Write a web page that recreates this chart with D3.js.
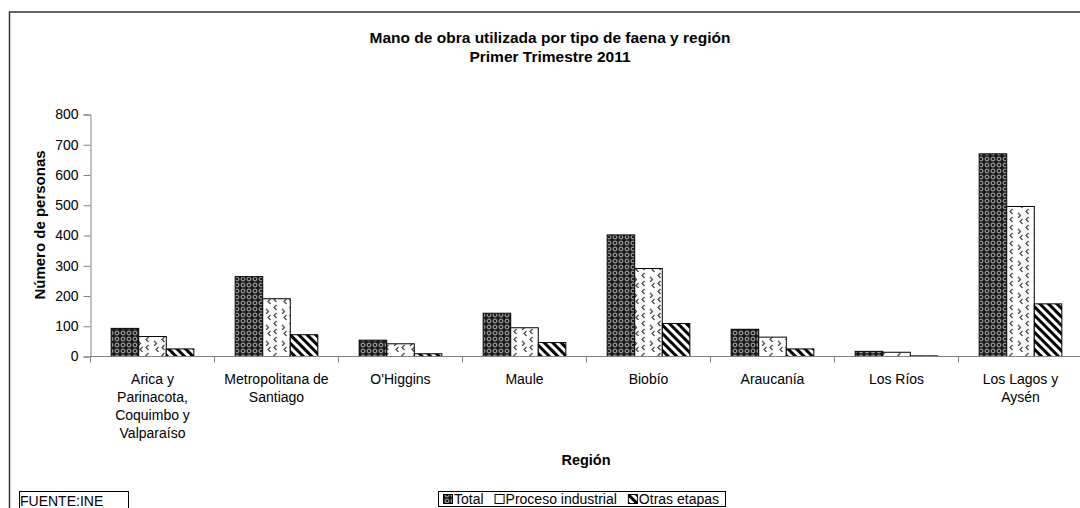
<!DOCTYPE html>
<html>
<head>
<meta charset="utf-8">
<script src="https://cdn.jsdelivr.net/npm/d3@7"></script>
<style>
  body { margin: 0; background: #fff; }
  svg { display: block; font-family: "Liberation Sans", Arial, sans-serif; }
</style>
</head>
<body>
<div id="chart"></div>
<script>
// Data
const regions = [
    ["Arica y", "Parinacota,", "Coquimbo y", "Valparaíso"],
    ["Metropolitana de", "Santiago"],
    ["O'Higgins"],
    ["Maule"],
    ["Biobío"],
    ["Araucanía"],
    ["Los Ríos"],
    ["Los Lagos y", "Aysén"]
];
const seriesNames = ["Total", "Proceso industrial", "Otras etapas"];
const total = [93, 264, 54, 143, 402, 90, 17, 670];
const proceso = [66, 191, 42, 95, 291, 64, 14, 496];
const otras = [25, 72, 9, 46, 109, 25, 2, 174];
const yTicks = [0, 100, 200, 300, 400, 500, 600, 700, 800];

const W = 1080, H = 508;
const svg = d3.select("#chart").append("svg")
    .attr("width", W)
    .attr("height", H);

// Patterns
const defs = svg.append("defs");

const p1 = defs.append("pattern")
    .attr("id", "pTotal")
    .attr("width", 6).attr("height", 6)
    .attr("patternUnits", "userSpaceOnUse");
p1.append("rect").attr("width", 6).attr("height", 6).attr("fill", "#1e1e1e");
p1.append("circle").attr("cx", 3).attr("cy", 3).attr("r", 1.9)
    .attr("fill", "none").attr("stroke", "#b0b0b0").attr("stroke-width", 1);

const p2 = defs.append("pattern")
    .attr("id", "pProceso")
    .attr("width", 16).attr("height", 16)
    .attr("patternUnits", "userSpaceOnUse");
p2.append("rect").attr("width", 16).attr("height", 16).attr("fill", "#fff");
["M4.5,1 L2,3.5 L4.5,6", "M10,5 L12.5,7.5 L10,10", "M4.5,9 L2,11.5 L4.5,14", "M14.5,11 L12,13.5 L14.5,16"]
    .forEach(d => p2.append("path").attr("d", d).attr("fill", "none")
        .attr("stroke", "#444").attr("stroke-width", 1.2));

const p3 = defs.append("pattern")
    .attr("id", "pOtras")
    .attr("width", 6).attr("height", 6)
    .attr("patternUnits", "userSpaceOnUse")
    .attr("patternTransform", "rotate(45)");
p3.append("rect").attr("width", 6).attr("height", 6).attr("fill", "#fff");
p3.append("rect").attr("width", 6).attr("height", 3).attr("fill", "#000");

const fills = ["url(#pTotal)", "url(#pProceso)", "url(#pOtras)"];
const legendFills = ["url(#pTotal)", "#fff", "url(#pOtras)"];

// Outer frame (cropped on right / bottom)
svg.append("path")
    .attr("d", "M9.5," + (H + 5) + " L9.5,12 L" + (W + 5) + ",12")
    .attr("fill", "none")
    .attr("stroke", "#333")
    .attr("stroke-width", 1.5);

// Title
svg.append("text").attr("x", 550).attr("y", 43)
    .attr("text-anchor", "middle").attr("font-size", 15.5).attr("font-weight", "bold")
    .text("Mano de obra utilizada por tipo de faena y región");
svg.append("text").attr("x", 550).attr("y", 62)
    .attr("text-anchor", "middle").attr("font-size", 15.5).attr("font-weight", "bold")
    .text("Primer Trimestre 2011");

// Scales
const x0 = 90.5, y0 = 356.5;
const x = d3.scaleBand()
    .domain(d3.range(regions.length))
    .range([x0, x0 + 8 * 124])
    .paddingInner(0)
    .paddingOuter(0);
const xs = d3.scaleBand()
    .domain(d3.range(3))
    .range([0, x.bandwidth()])
    .paddingInner(0)
    .paddingOuter(0.75);
const y = d3.scaleLinear().domain([0, 800]).range([y0, 114.5]);

// Bars
const data = [total, proceso, otras];
data.forEach((vals, s) => {
    svg.append("g").selectAll("rect")
        .data(vals)
        .join("rect")
        .attr("x", (d, i) => x(i) + xs(s))
        .attr("y", d => y(d))
        .attr("width", xs.bandwidth())
        .attr("height", d => y0 - y(d))
        .attr("fill", fills[s])
        .attr("stroke", "#000")
        .attr("stroke-width", 1);
});

// Y axis
const yAxis = svg.append("g")
    .attr("transform", "translate(" + x0 + ",0)")
    .call(d3.axisLeft(y).tickValues(yTicks).tickSize(7).tickPadding(5));
yAxis.select(".domain").attr("stroke", "#808080");
yAxis.selectAll(".tick line").attr("stroke", "#808080");
yAxis.selectAll("text").attr("font-size", 14).attr("fill", "#000")
    .style("font-family", "Liberation Sans, Arial, sans-serif");

// X axis
const xAxis = svg.append("g")
    .attr("transform", "translate(0," + y0 + ")");
xAxis.append("line")
    .attr("x1", x0).attr("x2", x0 + 8 * 124)
    .attr("stroke", "#808080");
xAxis.selectAll(".xt")
    .data(d3.range(regions.length + 1))
    .join("line")
    .attr("x1", i => x0 + i * x.step())
    .attr("x2", i => x0 + i * x.step())
    .attr("y1", 0).attr("y2", 6)
    .attr("stroke", "#808080");

regions.forEach((lines, i) => {
    const t = svg.append("text")
        .attr("x", x(i) + x.bandwidth() / 2)
        .attr("y", 384)
        .attr("text-anchor", "middle")
        .attr("font-size", 14);
    lines.forEach((ln, k) => {
        t.append("tspan")
            .attr("x", x(i) + x.bandwidth() / 2)
            .attr("dy", k === 0 ? 0 : 18)
            .text(ln);
    });
});

// Axis titles
svg.append("text")
    .attr("transform", "translate(45,225) rotate(-90)")
    .attr("text-anchor", "middle").attr("font-size", 15).attr("font-weight", "bold")
    .text("Número de personas");
svg.append("text")
    .attr("x", 586).attr("y", 465)
    .attr("text-anchor", "middle").attr("font-size", 14.5).attr("font-weight", "bold")
    .text("Región");

// Legend
const leg = svg.append("g");
leg.append("rect")
    .attr("x", 438.5).attr("y", 491.5).attr("width", 287).attr("height", 15)
    .attr("fill", "#fff").attr("stroke", "#000").attr("stroke-width", 1);
let lx = 443;
seriesNames.forEach((name, s) => {
    leg.append("rect")
        .attr("x", lx + 0.5).attr("y", 494.5)
        .attr("width", 9).attr("height", 9)
        .attr("fill", legendFills[s]).attr("stroke", "#000");
    const t = leg.append("text")
        .attr("x", lx + 11).attr("y", 504)
        .attr("font-size", 14)
        .text(name);
    lx += 11 + t.node().getComputedTextLength() + 11;
});

// Source box
svg.append("rect")
    .attr("x", 19.5).attr("y", 491.5).attr("width", 109).attr("height", 20)
    .attr("fill", "#fff").attr("stroke", "#000");
svg.append("text")
    .attr("x", 20).attr("y", 505.5)
    .attr("font-size", 14)
    .text("FUENTE:INE");
</script>
</body>
</html>
